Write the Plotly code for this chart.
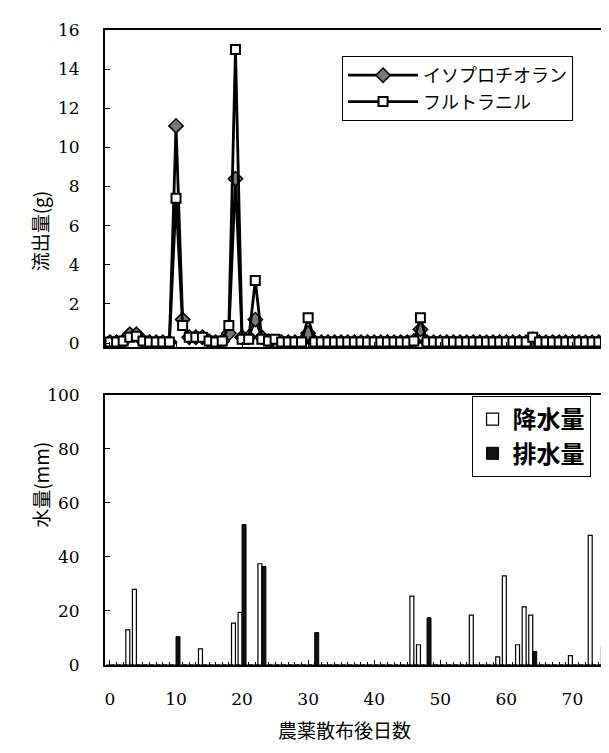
import plotly.graph_objects as go

days = list(range(0, 77))

# 流出量 (g)
iso = [0.05, 0.05, 0.1, 0.45, 0.45, 0.1, 0.05, 0.05, 0.05, 0.05,
       11.1, 1.2, 0.3, 0.3, 0.3, 0.1, 0.05, 0.1, 0.5, 8.4,
       0.3, 0.3, 1.2, 0.3, 0.1, 0.05, 0.05, 0.05, 0.05, 0.05,
       0.5, 0.05, 0.05, 0.05, 0.05, 0.05, 0.05, 0.05, 0.05, 0.05,
       0.05, 0.05, 0.05, 0.05, 0.05, 0.05, 0.1, 0.7, 0.05, 0.05,
       0.05, 0.05, 0.05, 0.05, 0.05, 0.05, 0.05, 0.05, 0.05, 0.05,
       0.05, 0.05, 0.05, 0.05, 0.2, 0.05, 0.05, 0.05, 0.05, 0.05,
       0.05, 0.05, 0.05, 0.05, 0.05, 0.05, 0.8]
flu = [0.05, 0.05, 0.1, 0.3, 0.35, 0.1, 0.05, 0.05, 0.05, 0.05,
       7.4, 0.9, 0.3, 0.3, 0.3, 0.1, 0.05, 0.1, 0.9, 15.0,
       0.2, 0.2, 3.2, 0.2, 0.1, 0.2, 0.05, 0.05, 0.05, 0.05,
       1.3, 0.05, 0.05, 0.05, 0.05, 0.05, 0.05, 0.05, 0.05, 0.05,
       0.05, 0.05, 0.05, 0.05, 0.05, 0.05, 0.1, 1.3, 0.05, 0.05,
       0.05, 0.05, 0.05, 0.05, 0.05, 0.05, 0.05, 0.05, 0.05, 0.05,
       0.05, 0.05, 0.05, 0.05, 0.3, 0.05, 0.05, 0.05, 0.05, 0.05,
       0.05, 0.05, 0.05, 0.05, 0.05, 0.05, 2.0]

# 水量 (mm)
rain = [0, 0, 0, 13, 28, 0, 0, 0, 0, 0,
        0, 0, 0, 0, 6, 0, 0, 0, 0, 15.5,
        19.5, 0, 0, 37.5, 0, 0, 0, 0, 0, 0,
        0, 0, 0, 0, 0, 0, 0, 0, 0, 0,
        0, 0, 0, 0, 0, 0, 25.5, 7.5, 0, 0,
        0, 0, 0, 0, 0, 18.5, 0, 0, 0, 3,
        33, 0, 7.5, 21.5, 18.5, 0, 0, 0, 0, 0,
        3.5, 0, 0, 48, 0, 6.8, 34.5]
drain = [0, 0, 0, 0, 0, 0, 0, 0, 0, 0,
         10.5, 0, 0, 0, 0, 0, 0, 0, 0, 0,
         52, 0, 0, 36.5, 0, 0, 0, 0, 0, 0,
         0, 12, 0, 0, 0, 0, 0, 0, 0, 0,
         0, 0, 0, 0, 0, 0, 0, 0, 17.5, 0,
         0, 0, 0, 0, 0, 0, 0, 0, 0, 0,
         0, 0, 0, 0, 5, 0, 0, 0, 0, 0,
         0, 0, 0, 0, 0, 0, 0]

x_ticks = [0, 10, 20, 30, 40, 50, 60, 70]
names = ["イソプロチオラン", "フルトラニル", "降水量", "排水量"]

JP = "Noto Sans CJK JP"
JP2 = "Noto Sans CJK SC"
SERIF = "DejaVu Serif"
INK = "#000000"

fig = go.Figure()
fig.add_trace(go.Scatter(
    x=days, y=iso, name=names[0], mode="lines+markers",
    line=dict(color=INK, width=2.8),
    marker=dict(symbol="diamond", size=11, color="#777777",
                line=dict(color=INK, width=1.5)),
    xaxis="x", yaxis="y", legend="legend"))
fig.add_trace(go.Scatter(
    x=days, y=flu, name=names[1], mode="lines+markers",
    line=dict(color=INK, width=2.8),
    marker=dict(symbol="square", size=9, color="white",
                line=dict(color=INK, width=2)),
    xaxis="x", yaxis="y", legend="legend"))
fig.add_trace(go.Bar(
    x=days, y=rain, name=names[2], width=0.6, offset=-0.6,
    marker=dict(color="white", line=dict(color=INK, width=1.2)),
    xaxis="x2", yaxis="y2", legend="legend2"))
fig.add_trace(go.Bar(
    x=days, y=drain, name=names[3], width=0.6, offset=0,
    marker=dict(color="#111111", line=dict(color=INK, width=1)),
    xaxis="x2", yaxis="y2", legend="legend2"))

axis_common = dict(showline=True, linecolor=INK, linewidth=2, mirror=True,
                   showgrid=False, zeroline=False, ticks="inside", ticklen=5,
                   tickcolor=INK, tickfont=dict(family=SERIF, size=17, color=INK))

W, H = 609, 753
l, r, t, b = 97, 1, 22, 96
pw, ph = W - l - r, H - t - b


def px(xp, yp):
    return (xp - l) / pw, (H - b - yp) / ph


fig.update_layout(
    width=W, height=H,
    margin=dict(l=l, r=r, t=t, b=b),
    paper_bgcolor="white", plot_bgcolor="white",
    barmode="overlay",
    xaxis=dict(domain=[0, 1], anchor="y", range=[-0.75, 76.3],
               tickvals=x_ticks, showticklabels=False, **axis_common),
    yaxis=dict(domain=[0.5008, 1], anchor="x", range=[-0.2, 16], dtick=2,
               ticklabelstandoff=20, **axis_common),
    xaxis2=dict(domain=[0, 1], anchor="y2", range=[-0.75, 76.3],
                tickvals=x_ticks, ticklabelstandoff=18,
                minor=dict(dtick=1, ticks="inside", ticklen=3, tickcolor=INK),
                **axis_common),
    yaxis2=dict(domain=[0, 0.4252], anchor="x2", range=[0, 100], dtick=20,
                ticklabelstandoff=20, **axis_common),
    legend=dict(x=px(335, 48)[0], y=px(335, 48)[1], xanchor="left", yanchor="top",
                bgcolor="white", bordercolor=INK, borderwidth=1,
                font=dict(family=JP, size=18, color=INK),
                itemwidth=70, tracegroupgap=0),
    legend2=dict(x=px(465, 388)[0], y=px(465, 388)[1], xanchor="left", yanchor="top",
                 bgcolor="white", bordercolor=INK, borderwidth=1,
                 font=dict(family=JP, size=24, color=INK, weight="bold"),
                 itemwidth=30, tracegroupgap=0),
    showlegend=True,
)

for txt, xp, yp, ang in [("流出量(g)", 16, 180, -90),
                         ("水量(mm)", 16, 522, -90),
                         ("農薬散布後日数", 337, 737, 0)]:
    xx, yy = px(xp, yp)
    fig.add_annotation(text=txt, textangle=ang, x=xx, y=yy, xref="paper", yref="paper",
                       showarrow=False, font=dict(family=JP2 if ang else JP, size=19, color=INK))

fig.write_html("out.html")
